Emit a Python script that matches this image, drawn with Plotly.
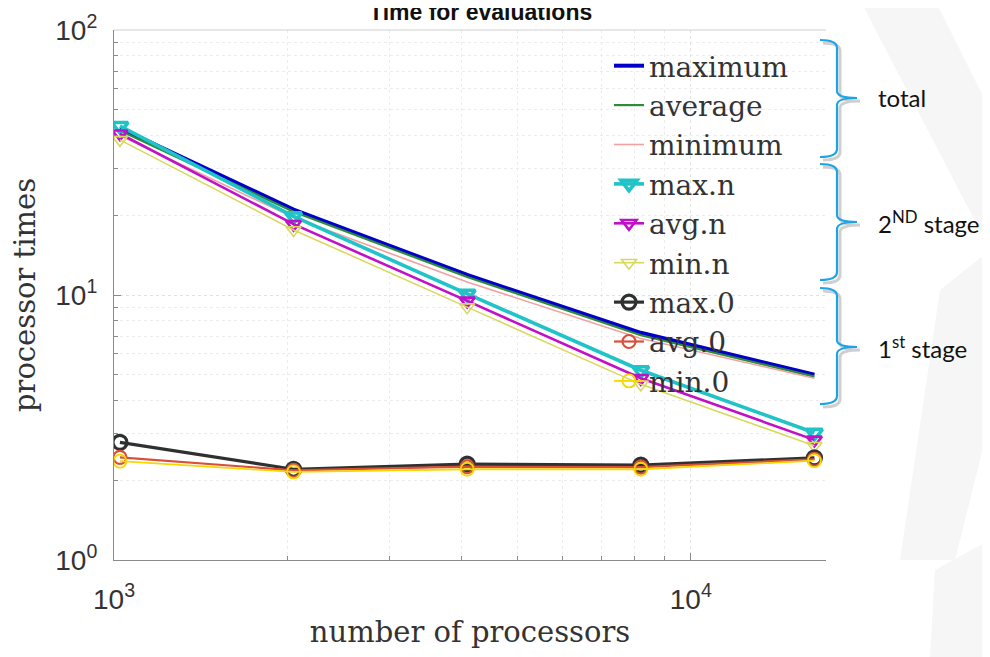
import plotly.graph_objects as go

# ---------------- data ----------------
procs = [1024, 2048, 4096, 8192, 16384]

total_max = [42.7, 21.0, 11.9, 7.2, 5.0]
total_avg = [41.8, 20.6, 11.7, 7.05, 4.92]
total_min = [40.0, 19.6, 11.2, 6.85, 4.85]

stage2_max = [43.4, 19.8, 10.1, 5.2, 3.02]
stage2_avg = [40.6, 18.5, 9.5, 4.85, 2.84]
stage2_min = [38.5, 17.6, 9.0, 4.6, 2.7]

stage1_max = [2.78, 2.2, 2.3, 2.28, 2.43]
stage1_avg = [2.44, 2.18, 2.25, 2.24, 2.40]
stage1_min = [2.36, 2.15, 2.2, 2.2, 2.37]

series_names = ["maximum", "average", "minimum", "max.n", "avg.n", "min.n",
                "max.0", "avg.0", "min.0"]
x_tick_vals = [1000, 10000]
x_tick_text = ["10<sup>3</sup>", "10<sup>4</sup>"]
y_tick_vals = [1, 10, 100]
y_tick_text = ["10<sup>0</sup>", "10<sup>1</sup>", "10<sup>2</sup>"]

# ---------------- figure ----------------
# page body has an 8px margin: figure is drawn 8px right/down of the window corner
OFF = 8
W, H = 990 - OFF, 657 - OFF
# plot-area edges in window (screen) pixels
L, R, T, B = 114, 826, 30, 560


def px(x):
    return (x - L) / (R - L)


def py(y):
    return (B - y) / (B - T)


fig = go.Figure()

styles = [
    (total_max, "#0000C8", 4.0, None, None),
    (total_avg, "#2E8B3A", 2.2, None, None),
    (total_min, "#F2A0A0", 1.6, None, None),
    (stage2_max, "#1FC3C8", 3.6, "triangle-down-open", 14),
    (stage2_avg, "#C010C8", 2.6, "triangle-down-open", 13),
    (stage2_min, "#D8D860", 1.6, "triangle-down-open", 13),
    (stage1_max, "#2F3030", 3.2, "circle-open", 14),
    (stage1_avg, "#D9503A", 2.2, "circle-open", 13),
    (stage1_min, "#F5D800", 1.8, "circle-open", 13),
]

for name, (vals, col, lw, sym, ms) in zip(series_names, styles):
    kw = dict(mode="lines")
    if sym:
        kw = dict(mode="lines+markers",
                  marker=dict(symbol=sym, size=ms, color=col,
                              line=dict(color=col, width=lw)))
    fig.add_trace(go.Scatter(x=procs, y=vals, name=name,
                             line=dict(color=col, width=lw), **kw))

serif = "DejaVu Serif"
sans = "Liberation Sans"

axis_common = dict(
    type="log",
    automargin=False,
    showline=True, linecolor="#8a8a8a", linewidth=1.2,
    ticks="inside", ticklen=7, tickcolor="#8a8a8a",
    showgrid=True, gridcolor="#e2e2e2", griddash="dot", gridwidth=1,
    zeroline=False,
    tickfont=dict(family=sans, size=28, color="#333333"),
    minor=dict(dtick="D1", ticks="inside", ticklen=4, tickcolor="#8a8a8a",
               showgrid=True, gridcolor="#ececec", griddash="dot"),
)

fig.update_xaxes(
    **axis_common,
    range=[3, 4.2345],
    tickvals=x_tick_vals, ticktext=x_tick_text,
    ticklabelstandoff=14,
    title=dict(text="number of processors",
               font=dict(family=serif, size=29, color="#333333"),
               standoff=7),
)
fig.update_yaxes(
    **axis_common,
    range=[0, 2],
    tickvals=y_tick_vals, ticktext=y_tick_text,
    ticklabelstandoff=10,
    title=dict(text="processor times",
               font=dict(family=serif, size=29, color="#333333"),
               standoff=12),
)

fig.update_layout(
    width=W, height=H,
    margin=dict(l=L - OFF, r=W - (R - OFF), t=T - OFF, b=H - (B - OFF),
                autoexpand=False),
    paper_bgcolor="white", plot_bgcolor="white",
    legend=dict(x=px(609), y=py(41), xanchor="left", yanchor="top",
                bgcolor="rgba(255,255,255,0)", borderwidth=0,
                font=dict(family=serif, size=28, color="#333333"),
                itemwidth=30, tracegroupgap=0),
    showlegend=True,
)

# title, partly cut off by the top edge as in the reference
fig.add_annotation(x=px(480), y=py(12), xref="paper", yref="paper",
                   text="<b>Time for evaluations</b>", showarrow=False,
                   xanchor="center", yanchor="middle",
                   font=dict(family=sans, size=23, color="#111111"))

# top box line
fig.add_shape(type="line", xref="paper", yref="paper", x0=0, x1=1, y0=1, y1=1,
              line=dict(color="#d0d0d0", width=1))

# faint watermark shapes on the right
wm = "#f6f6f6"
fig.add_shape(type="path", xref="paper", yref="paper", layer="below",
              path=f"M {px(860)},{py(0)} L {px(935)},{py(0)} L {px(990)},{py(110)} "
                   f"L {px(990)},{py(250)} Z",
              fillcolor=wm, line=dict(width=0))
fig.add_shape(type="path", xref="paper", yref="paper", layer="below",
              path=f"M {px(940)},{py(290)} L {px(990)},{py(250)} L {px(990)},{py(420)} "
                   f"L {px(955)},{py(560)} L {px(900)},{py(560)} Z",
              fillcolor=wm, line=dict(width=0))
fig.add_shape(type="path", xref="paper", yref="paper", layer="below",
              path=f"M {px(935)},{py(570)} L {px(990)},{py(540)} L {px(990)},{py(657)} "
                   f"L {px(930)},{py(657)} Z",
              fillcolor=wm, line=dict(width=0))


def brace(ytop, ybot, ytip, x0, xv, xtip):
    return (f"M {px(x0)},{py(ytop)} Q {px(xv)},{py(ytop)} {px(xv)},{py(ytop + 8)} "
            f"L {px(xv)},{py(ytip - 7)} Q {px(xv)},{py(ytip)} {px(xtip)},{py(ytip)} "
            f"Q {px(xv)},{py(ytip)} {px(xv)},{py(ytip + 7)} "
            f"L {px(xv)},{py(ybot - 8)} Q {px(xv)},{py(ybot)} {px(x0)},{py(ybot)}")


braces = [(40, 157, 98, "total", 876),
          (164, 280, 222, "2<sup>ND</sup> stage", 876),
          (288, 404, 347, "1<sup>st</sup> stage", 876)]
blue = "#1DA4E6"
for ytop, ybot, ytip, label, tx in braces:
    fig.add_shape(type="path", xref="paper", yref="paper",
                  path=brace(ytop + 3, ybot + 3, ytip + 3, 823, 840, 860),
                  line=dict(color="#cfcfcf", width=3))
    fig.add_shape(type="path", xref="paper", yref="paper",
                  path=brace(ytop, ybot, ytip, 820, 837, 857),
                  line=dict(color=blue, width=2.2))
    fig.add_annotation(x=px(tx), y=py(ytip), xref="paper", yref="paper",
                       text=label, showarrow=False, xanchor="left", yanchor="middle",
                       font=dict(family="Lato", size=24, color="#111111"))

fig.write_html("out.html")
